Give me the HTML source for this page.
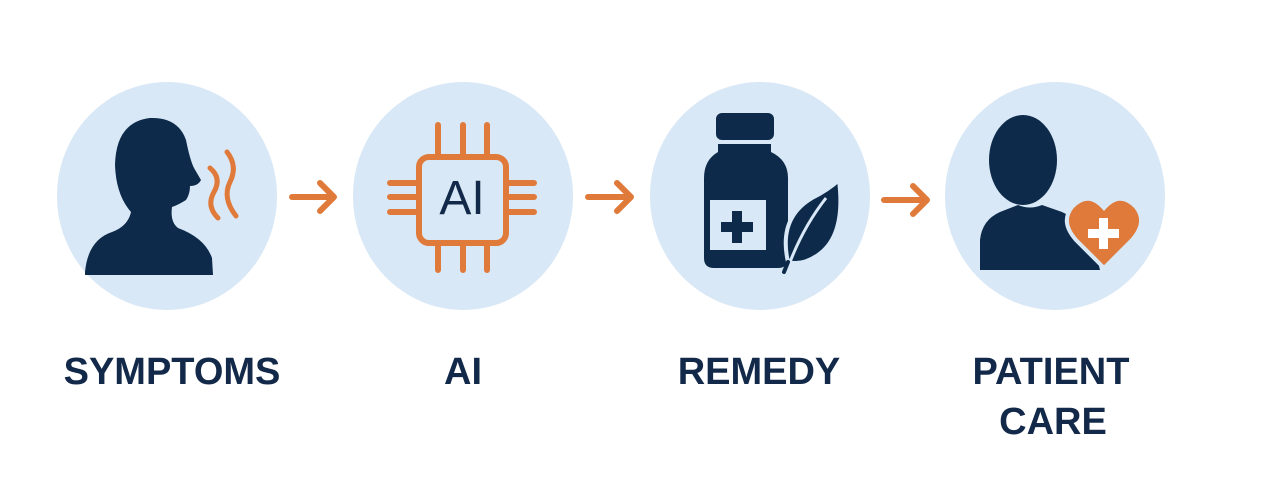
<!DOCTYPE html>
<html><head><style>
body{margin:0;background:#fff;width:1280px;height:494px;overflow:hidden}
svg{display:block}
text{font-family:"Liberation Sans",sans-serif;font-weight:bold;fill:#13294a}
</style></head><body>
<svg width="1280" height="494" viewBox="0 0 1280 494">
<g fill="#d9e8f6">
<ellipse cx="167" cy="196" rx="110" ry="114"/>
<ellipse cx="463" cy="196" rx="110" ry="114"/>
<ellipse cx="760" cy="196" rx="110" ry="114"/>
<ellipse cx="1055" cy="196" rx="110" ry="114"/>
</g>
<!-- person 1 -->
<path fill="#0d2a4a" d="M85 272 Q88 240 112 232 Q128 226 131 212 Q116 195 115 165 Q116 122 150 118 Q178 117 186 140 Q190 160 194 168 L201 180 Q198 186 190 186 Q190 194 186 200 Q178 205 172 207 Q170 222 178 228 Q205 238 212 258 L213 275 L85 275 Z"/>
<g fill="none" stroke="#e07a3a" stroke-width="5" stroke-linecap="round">
<path d="M210 168 Q222 178 214 192 Q206 206 218 218"/>
<path d="M227 152 Q238 166 230 182 Q222 198 236 216"/>
</g>
<!-- arrows -->
<g fill="none" stroke="#e07a3a" stroke-width="6" stroke-linecap="round" stroke-linejoin="round">
<path d="M292 197 H333 M320 183 L334 197 L320 211"/>
<path d="M588 197 H630 M617 183 L631 197 L617 211"/>
<path d="M884 200 H926 M913 186 L927 200 L913 214"/>
</g>
<!-- chip -->
<g fill="none" stroke="#e07a3a" stroke-width="6" stroke-linecap="round">
<rect x="419" y="157" width="87" height="86" rx="10"/>
<path d="M438 125V157M463 125V157M487 125V157M438 243V270M463 243V270M487 243V270M390 183H419M390 197H419M390 212H419M506 183H534M506 197H534M506 212H534"/>
</g>
<text x="462" y="214" font-size="48" text-anchor="middle" style="font-weight:normal">AI</text>
<!-- bottle -->
<g fill="#0d2a4a">
<rect x="716" y="113" width="58" height="27" rx="6"/>
<path d="M718 144 H771 V152 Q788 160 788 178 V258 Q788 268 778 268 H714 Q704 268 704 258 V178 Q704 160 718 152 Z"/>
</g>
<rect x="710" y="200" width="56" height="50" fill="#d9e8f6"/>
<path fill="#0d2a4a" d="M732 211h10v11h11v10h-11v11h-10v-11h-11v-10h11z"/>
<path fill="#0d2a4a" stroke="#d9e8f6" stroke-width="4" d="M788 262 Q778 218 812 198 Q828 190 839 180 Q846 236 818 255 Q802 266 788 262 Z"/>
<path d="M790 262 Q804 226 826 198" stroke="#d9e8f6" stroke-width="3" fill="none"/>
<path d="M788 262 L784 272" stroke="#0d2a4a" stroke-width="4" stroke-linecap="round"/>
<!-- person 4 -->
<g fill="#0d2a4a">
<ellipse cx="1023" cy="160" rx="34" ry="45"/>
<path d="M980 270 V240 Q982 220 1000 212 L1018 205 Q1030 210 1042 205 L1062 212 Q1085 222 1095 250 L1100 270 Z"/>
</g>
<path fill="#e07a3a" stroke="#d9e8f6" stroke-width="4" d="M1104 268 L1076 240 Q1060 222 1072 207 Q1088 190 1104 208 Q1120 190 1136 207 Q1148 222 1132 240 Z"/>
<path fill="#fff" d="M1099 218h9v11h11v9h-11v11h-9v-11h-11v-9h11z"/>
<!-- labels -->
<text x="172" y="384" font-size="38" text-anchor="middle">SYMPTOMS</text>
<text x="463" y="384" font-size="38" text-anchor="middle">AI</text>
<text x="759" y="384" font-size="38" text-anchor="middle">REMEDY</text>
<text x="1051" y="384" font-size="38" text-anchor="middle">PATIENT</text>
<text x="1053" y="434" font-size="38" text-anchor="middle">CARE</text>
</svg>
</body></html>
